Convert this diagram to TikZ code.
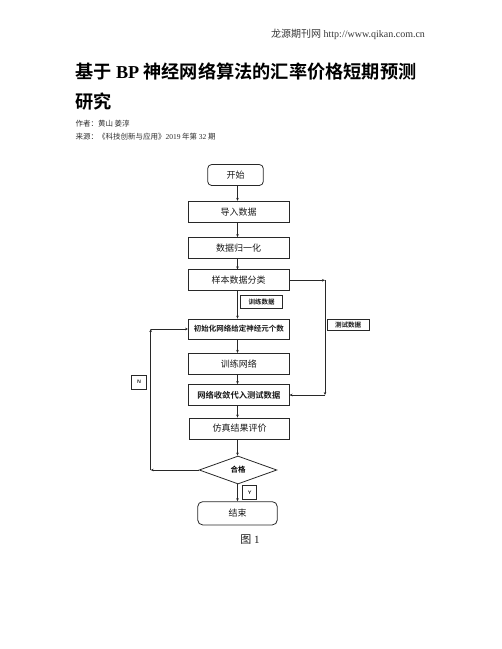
\documentclass[tikz,border=0pt]{standalone}
\usepackage{fontspec}
\setmainfont{Liberation Serif}
\newfontfamily\cjk[BoldFont={Noto Sans CJK SC Bold}]{Noto Sans CJK SC}
\usepackage{tikz}
\usetikzlibrary{shapes.geometric, arrows.meta, calc}
\definecolor{FCLine}{RGB}{40,40,40}
\definecolor{FCText}{RGB}{25,25,25}
\definecolor{FCGray}{RGB}{90,90,90}

\tikzset{
  procbox/.style={draw=FCLine, line width=0.8pt, minimum width=100.7pt,
                  minimum height=21pt, inner sep=0pt, text=FCText,
                  font=\cjk\fontsize{9}{9}\selectfont},
  termbox/.style={procbox, rounded corners=4pt},
  tagbox/.style={draw=FCLine, line width=0.6pt, fill=white, inner sep=0pt,
                 text=FCText, font=\cjk\bfseries\fontsize{6.5}{6.5}\selectfont},
  flowarrow/.style={draw=FCLine, line width=0.7pt,
                    -{Stealth[length=3pt, width=2.6pt]}}
}

\begin{document}
\begin{tikzpicture}[x=1pt, y=-1pt]
  \useasboundingbox (0,0) rectangle (502,649);

  % Header
  \node[anchor=east, font=\fontsize{10}{10}\selectfont, FCGray!60!black]
        (site) at (428.5,34.3) {{\cjk 龙源期刊网} http://www.qikan.com.cn};
  \node[anchor=west, font=\cjk\bfseries\fontsize{18.2}{18.2}\selectfont]
        (title) at (72,71.7) {基于 {\rmfamily\bfseries BP} 神经网络算法的汇率价格短期预测};
  \node[anchor=west, font=\cjk\bfseries\fontsize{18.2}{18.2}\selectfont]
        (title2) at (72,101.7) {研究};
  \node[anchor=west, font=\cjk\fontsize{7.5}{7.5}\selectfont, FCGray!50!black]
        (author) at (72,123.3) {作者：黄山\ 姜淳};
  \node[anchor=west, font=\cjk\fontsize{7.5}{7.5}\selectfont, FCGray!50!black]
        (source) at (72,136.7) {来源：《科技创新与应用》{\rmfamily 2019} 年第 {\rmfamily 32} 期};

  % Flow steps
  \coordinate (axis) at (237.5,0);
  \node[termbox, minimum width=55.6pt] (start) at (235.5,175) {开始};
  \node[procbox] (load)  at (238.6,211.7) {导入数据};
  \node[procbox] (norm)  at (238.6,248)   {数据归一化};
  \node[procbox] (split) at (238.6,280.3) {样本数据分类};
  \node[procbox, minimum height=20pt,
        font=\cjk\bfseries\fontsize{7.5}{7.5}\selectfont]
        (init)  at (238.8,329)   {初始化网络给定神经元个数};
  \node[procbox] (train) at (238.8,363.8) {训练网络};
  \node[procbox, font=\cjk\bfseries\fontsize{8.3}{8.3}\selectfont]
        (conv)  at (238.8,395)   {网络收敛代入测试数据};
  \node[procbox] (eval)  at (239.5,428.5) {仿真结果评价};
  \node[diamond, draw=FCLine, line width=0.8pt, aspect=2.8,
        minimum width=77.7pt, minimum height=28pt, inner sep=0pt,
        font=\cjk\bfseries\fontsize{7.5}{7.5}\selectfont]
        (check) at (238,470) {合格};
  \node[termbox, minimum width=79.6pt, minimum height=23.3pt, rounded corners=5pt]
        (finish) at (237.5,513.3) {结束};

  % Main line
  \draw[flowarrow] (start.south -| axis) -- (load.north -| axis);
  \draw[flowarrow] (load.south -| axis)  -- (norm.north -| axis);
  \draw[flowarrow] (norm.south -| axis)  -- (split.north -| axis);
  \draw[flowarrow] (split.south -| axis) -- (init.north -| axis);
  \draw[flowarrow] (init.south -| axis)  -- (train.north -| axis);
  \draw[flowarrow] (train.south -| axis) -- (conv.north -| axis);
  \draw[flowarrow] (conv.south -| axis)  -- (eval.north -| axis);
  \draw[flowarrow] (eval.south -| axis)  -- (check.north -| axis);
  \draw[flowarrow] (check.south -| axis) -- (finish.north -| axis);

  % Test data branch
  \coordinate (tr) at (325,280.3);
  \coordinate (br) at (325,395);
  \draw[flowarrow] (split.east) -- (tr);
  \draw[flowarrow] (tr) -- (br);
  \draw[flowarrow] (br) -- (conv.east);

  % Retrain loop
  \coordinate (bl) at (150.7,470);
  \coordinate (tl) at (150.7,329);
  \draw[flowarrow] (check.west) -- (bl);
  \draw[flowarrow] (bl) -- (tl);
  \draw[flowarrow] (tl) -- (init.west);

  % Tags
  \node[tagbox, minimum width=41.6pt, minimum height=13.3pt] (trtag) at (261.5,301.7) {训练数据};
  \node[tagbox, minimum width=41.7pt, minimum height=11.4pt] (tstag) at (348.2,325) {测试数据};
  \node[tagbox, minimum width=15pt, minimum height=14.3pt,
        font=\sffamily\bfseries\fontsize{5}{5}\selectfont] (ntag) at (139.2,382.2) {N};
  \node[tagbox, minimum width=14pt, minimum height=13.6pt,
        font=\sffamily\bfseries\fontsize{5}{5}\selectfont] (ytag) at (249.7,492.5) {Y};

  % Caption
  \node[font=\fontsize{11}{11}\selectfont, FCText] (cap) at (250,540) {{\cjk 图} 1};
\end{tikzpicture}
\end{document}
